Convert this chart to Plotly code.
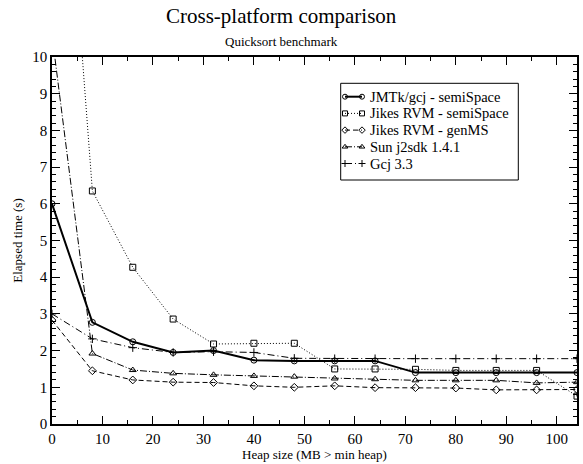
import plotly.graph_objects as go

# Heap size above the minimum heap (MB)
heap_mb = [0, 8, 16, 24, 32, 40, 48, 56, 64, 72, 80, 88, 96, 104]

# Elapsed time (s) per VM / collector
jmtk_semispace = [6.0, 2.77, 2.24, 1.95, 2.0, 1.74, 1.72, 1.72, 1.72, 1.4, 1.4, 1.4, 1.4, 1.4]
jikes_semispace = [21.0, 6.35, 4.27, 2.86, 2.18, 2.2, 2.2, 1.5, 1.5, 1.49, 1.46, 1.46, 1.46, 0.76]
jikes_genms = [2.83, 1.45, 1.2, 1.14, 1.13, 1.04, 1.0, 1.04, 0.99, 0.99, 0.98, 0.93, 0.93, 0.94]
sun_j2sdk = [10.6, 1.92, 1.47, 1.38, 1.34, 1.31, 1.29, 1.24, 1.22, 1.19, 1.19, 1.19, 1.12, 1.14]
gcj_33 = [3.0, 2.32, 2.08, 1.95, 1.97, 1.95, 1.79, 1.78, 1.78, 1.78, 1.78, 1.78, 1.78, 1.78]

series_names = ["JMTk/gcj - semiSpace", "Jikes RVM - semiSpace", "Jikes RVM - genMS",
                "Sun j2sdk 1.4.1", "Gcj 3.3"]
series_values = [jmtk_semispace, jikes_semispace, jikes_genms, sun_j2sdk, gcj_33]

symbols = ["circle-open", "square-open", "diamond-open", "triangle-up-open", "cross-thin-open"]
dashes = ["solid", "1px,2px", "5px,3px", "7px,2px,1px,2px", "7px,3px,1px,3px"]
widths = [2.0, 1.0, 1.0, 1.0, 1.0]

serif = "Liberation Serif"
W, H = 583, 464
L, R, T, B = 52, 6, 57, 40          # plot-area margins in px
PW, PH = W - L - R, H - T - B


def fx(px):
    """page pixel x -> plot-area fraction"""
    return (px - L) / PW


def fy(py):
    """page pixel y -> plot-area fraction"""
    return (H - B - py) / PH


fig = go.Figure()
for name, vals, sym, dash, lw in zip(series_names, series_values, symbols, dashes, widths):
    fig.add_trace(go.Scatter(
        x=heap_mb, y=vals, name=name, mode="lines+markers", showlegend=False,
        line=dict(color="black", width=lw, dash=dash),
        marker=dict(symbol=sym, size=6, color="black", line=dict(color="black", width=1)),
    ))

# companion axes carrying the mirrored (top/right) tick marks
fig.add_trace(go.Scatter(x=[None], y=[None], xaxis="x2", yaxis="y2",
                         showlegend=False, hoverinfo="skip"))

# legend panel: samples on a unit-range overlay axis, labels as annotations
row_px = [96.7, 113.4, 130.1, 146.8, 163.5]
sample_x0, sample_x1, text_x = 345, 362, 368
annotations = []
for name, sym, dash, lw, ry in zip(series_names, symbols, dashes, widths, row_px):
    fig.add_trace(go.Scatter(
        x=[fx(sample_x0), fx(sample_x1)], y=[fy(ry), fy(ry)],
        xaxis="x3", yaxis="y3", mode="lines+markers", showlegend=False, hoverinfo="skip",
        cliponaxis=False,
        line=dict(color="black", width=lw, dash=dash),
        marker=dict(symbol=sym, size=5, color="black", line=dict(color="black", width=1)),
    ))
    annotations.append(dict(
        text=name, xref="paper", yref="paper", x=fx(text_x), y=fy(ry),
        xanchor="left", yanchor="middle", showarrow=False,
        font=dict(family=serif, size=14.5, color="black"),
    ))

annotations += [
    dict(text="Cross-platform comparison", xref="paper", yref="paper",
         x=fx(281), y=fy(16), showarrow=False, xanchor="center", yanchor="middle",
         font=dict(family=serif, size=21, color="black")),
    dict(text="Quicksort benchmark", xref="paper", yref="paper",
         x=fx(281), y=fy(41), showarrow=False, xanchor="center", yanchor="middle",
         font=dict(family=serif, size=13, color="black")),
]

tickfont = dict(family=serif, size=15, color="black")
common = dict(showgrid=False, zeroline=False, showline=True, linecolor="black",
              linewidth=1.5, ticks="inside", ticklen=8, tickwidth=1.2, tickcolor="black",
              tickfont=tickfont)
xminor = dict(dtick=5, ticks="inside", ticklen=4, tickcolor="black", tickwidth=1)
yminor = dict(dtick=0.2, ticks="inside", ticklen=4, tickcolor="black", tickwidth=1)

fig.update_layout(
    width=W, height=H,
    margin=dict(l=L, r=R, t=T, b=B),
    paper_bgcolor="white", plot_bgcolor="white",
    font=dict(family=serif, color="black"),
    showlegend=False,
    xaxis=dict(range=[0, 104], dtick=10, tick0=0, minor=xminor,
               title=dict(text="Heap size (MB > min heap)", standoff=0,
                          font=dict(family=serif, size=13, color="black")),
               **common),
    yaxis=dict(range=[0, 10], dtick=1, tick0=0, minor=yminor,
               title=dict(text="Elapsed time (s)", standoff=7,
                          font=dict(family=serif, size=13, color="black")),
               **common),
    xaxis2=dict(range=[0, 104], dtick=10, tick0=0, minor=xminor, overlaying="x",
                side="top", showticklabels=False, **common),
    yaxis2=dict(range=[0, 10], dtick=1, tick0=0, minor=yminor, overlaying="y",
                side="right", showticklabels=False, **common),
    xaxis3=dict(range=[0, 1], overlaying="x", visible=False, fixedrange=True),
    yaxis3=dict(range=[0, 1], overlaying="y", visible=False, fixedrange=True),
    shapes=[dict(type="rect", xref="paper", yref="paper",
                 x0=fx(340.7), x1=fx(518.3), y0=fy(180), y1=fy(83.3),
                 line=dict(color="black", width=1), fillcolor="rgba(0,0,0,0)")],
    annotations=annotations,
)

fig.write_html("out.html")
